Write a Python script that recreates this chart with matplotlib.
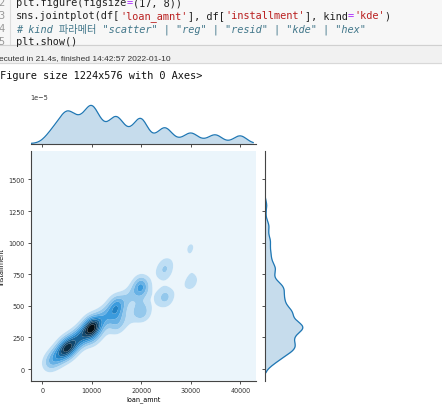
import colorsys
import numpy as np
import matplotlib
matplotlib.use("Agg")
import matplotlib.pyplot as plt
from matplotlib.colors import LinearSegmentedColormap, Normalize, to_rgb
from matplotlib.patches import Rectangle
from matplotlib.lines import Line2D

# loans: 36 month term band
amnt_36 = [1000, 2000, 3000, 4000, 5000, 5000, 5000, 6000, 7000, 8000, 9000,
           10000, 10000, 10000, 11000, 12000, 13000, 14000, 15000, 15000, 15000,
           16000, 17000, 18000, 19000, 20000, 20000, 20000, 21000, 22000, 23000,
           24000, 25000, 25000, 25000, 26000, 27000, 28000, 29000, 30000, 30000, 30000,
           31000, 32000, 33000, 34000, 35000, 36000, 37000, 38000, 39000, 40000]
inst_36 = [33, 66, 99, 132, 150, 166, 182, 198, 231, 264, 296,
           310, 330, 350, 361, 394, 426, 458, 450, 490, 530,
           524, 556, 588, 620, 620, 652, 685, 686, 718, 750,
           770, 760, 800, 845, 845, 878, 910, 940, 920, 960, 1000,
           1005, 1040, 1075, 1105, 1140, 1170, 1200, 1235, 1265, 1300]
n_36 = [8.6, 13.8, 19.0, 21.5, 11.0, 22.0, 11.0, 22.7, 22.7, 22.0, 21.5,
        19.0, 23.0, 13.0, 19.0, 13.0, 13.0, 11.0, 9.0, 15.0, 9.0,
        7.0, 7.0, 7.0, 7.0, 9.0, 15.0, 9.0, 1.0, 1.0, 1.0,
        6.6, 4.0, 6.5, 4.0, 1.6, 1.6, 1.2, 1.6, 2.4, 3.2, 2.4,
        1.4, 1.2, 1.0, 1.0, 5.0, 1.2, 1.0, 0.8, 0.8, 5.0]

# 60 month term band
amnt_60 = [10000, 12000, 14000, 15000, 15000, 15000, 16000, 17000, 18000, 19000,
           20000, 20000, 20000, 21000, 22000, 23000, 24000, 25000, 25000, 25000,
           26000, 27000, 28000, 29000, 30000, 30000, 30000, 31000, 32000, 33000, 34000,
           35000, 40000]
inst_60 = [232, 276, 320, 330, 356, 385, 370, 395, 414, 440,
           435, 462, 490, 480, 505, 525, 555, 545, 570, 600,
           590, 615, 640, 660, 660, 682, 710, 710, 730, 755, 775,
           800, 880]
n_60 = [8.0, 4.2, 3.7, 4.5, 6.0, 4.0, 4.7, 3.5, 4.2, 3.6,
        6.0, 9.0, 6.0, 1.0, 1.0, 1.0, 6.1, 4.0, 6.5, 4.0,
        1.6, 1.6, 2.0, 1.6, 3.0, 3.5, 3.0, 1.7, 1.6, 1.6, 1.5,
        5.0, 5.0]

# loans at other rates
amnt_other = [21000, 22000, 23000, 21000, 22000, 23000, 24000,
              30000, 35000, 35000, 40000, 40000, 40000]
inst_other = [575, 600, 630, 405, 425, 445, 655,
              820, 920, 1040, 1000, 1120, 1600]
n_other = [0.8, 0.8, 0.8, 1.2, 1.2, 1.2, 0.6,
           5.4, 5.0, 5.5, 5.5, 5.0, 0.3]

x = np.array(amnt_36 + amnt_60 + amnt_other, dtype=float)
y = np.array(inst_36 + inst_60 + inst_other, dtype=float)
w = np.array(n_36 + n_60 + n_other, dtype=float)


def kde1d(data, weights, bw, grid):
    d = (grid[:, None] - data[None, :]) / bw
    return (np.exp(-0.5 * d ** 2) * weights).sum(1) / (weights.sum() * bw * np.sqrt(2 * np.pi))


# joint kde on the plotted window
xlim = (-2340, 43170)
ylim = (-92, 1725)
bwx, bwy = 1150, 55
gx = np.linspace(*xlim, 260)
gy = np.linspace(*ylim, 260)
dx = (gx[None, :, None] - x[None, None, :]) / bwx
dy = (gy[:, None, None] - y[None, None, :]) / bwy
z = (np.exp(-0.5 * (dx ** 2 + dy ** 2)) * w).sum(2) / (w.sum() * 2 * np.pi * bwx * bwy)

# marginal kdes
bmx, bmy = 1300, 40
mx = np.linspace(x.min() - 2.5 * bmx, x.max() + 2 * bmx, 300)
my = np.linspace(y.min() - 1.5 * bmy, y.max() + 3 * bmy, 300)
dens_x = kde1d(x, w, bmx, mx)
dens_y = kde1d(y, w, bmy, my)

c0 = "#1f77b4"
h, l, s = colorsys.rgb_to_hls(*to_rgb(c0))
cmap = LinearSegmentedColormap.from_list(
    "kde", [colorsys.hls_to_rgb(h, li, s) for li in np.linspace(1, 0, 12)])

plt.rcParams["font.size"] = 4.7
plt.rcParams["xtick.color"] = "#333333"
plt.rcParams["ytick.color"] = "#333333"
plt.rcParams["axes.edgecolor"] = "#444444"

W, H = 442, 410
fig = plt.figure(figsize=(W / 100, H / 100), dpi=100)


def fx(px):
    return px / W


def fy(py):
    return 1 - py / H


def ftext(px, py, s, **kw):
    fig.text(fx(px), fy(py), s, va="center", **kw)


# notebook cell background
fig.add_artist(Rectangle((0, fy(45.5)), 1, 45.5 / H, transform=fig.transFigure,
                         color="#f7f7f7", zorder=0))
fig.add_artist(Rectangle((0, fy(64.3)), 1, 18.8 / H, transform=fig.transFigure,
                         color="#f1f1f1", zorder=0))
fig.add_artist(Line2D([fx(10), fx(10)], [fy(0), fy(45.5)], color="#dddddd", lw=0.8))
fig.add_artist(Line2D([0, 1], [fy(45.5), fy(45.5)], color="#d0d0d0", lw=0.8))
fig.add_artist(Line2D([0, 1], [fy(64.3), fy(64.3)], color="#d8d8d8", lw=0.8))

fs = 7.35
cw = 0.60205 * fs * 100 / 72
mono = "DejaVu Sans Mono"
black, red, purple = "#222222", "#ba2121", "#aa22ff"
code_lines = {
    2: [("plt.figure(figsize", black), ("=", purple), ("(17, 8))", black)],
    3: [("sns.jointplot(df[", black), ("'loan_amnt'", red), ("], df[", black),
        ("'installment'", red), ("], kind", black), ("=", purple), ("'kde'", red), (")", black)],
    5: [("plt.show()", black)],
}
line_y = {2: 3.5, 3: 16.2, 4: 28.9, 5: 41.6}
for n, yy in line_y.items():
    ftext(-1.5, yy, str(n), family=mono, fontsize=fs, color="#999999")
for n, toks in code_lines.items():
    col = 0
    for tok, colr in toks:
        ftext(16 + col * cw, line_y[n], tok, family=mono, fontsize=fs, color=colr)
        col += len(tok)
ftext(16, line_y[4], '# kind 파라메터 "scatter" | "reg" | "resid" | "kde" | "hex"',
      family=[mono, "Noto Sans CJK KR"], style="italic", fontsize=fs, color="#41778a")

ftext(-1, 58.5, "Executed in 21.4s, finished 14:42:57 2022-01-10"[2:],
      family="Liberation Sans", fontsize=6.0, color="#333333")
ftext(-cw, 76.5, "<Figure size 1224x576 with 0 Axes>", family=mono, fontsize=fs, color="#111111")

# jointplot axes
jl, jr, jt, jb = 30.7, 256, 152, 381.7
ax = fig.add_axes([fx(jl), fy(jb), (jr - jl) / W, (jb - jt) / H])
ax_mx = fig.add_axes([fx(jl), fy(144.5), (jr - jl) / W, 40 / H], sharex=ax)
ax_my = fig.add_axes([fx(264.7), fy(jb), 40 / W, (jb - jt) / H], sharey=ax)

levels = np.linspace(0, z.max(), 11)
ax.contourf(gx, gy, z, levels=levels, cmap=cmap, norm=Normalize(levels[0], levels[-1]),
            antialiased=True)
ax.set_xlim(*xlim)
ax.set_ylim(*ylim)
ax.set_xticks([0, 10000, 20000, 30000, 40000])
ax.set_yticks([0, 250, 500, 750, 1000, 1250, 1500])
ax.set_xlabel("loan_amnt", labelpad=2)
ax.set_ylabel("installment")
ax.yaxis.set_label_coords(-0.118, 0.5)
for sp in ["top", "right"]:
    ax.spines[sp].set_visible(False)
ax.tick_params(length=2.2, width=0.6, pad=2)

ax_mx.fill_between(mx, 0, dens_x, color=c0, alpha=0.25, lw=0)
ax_mx.plot(mx, dens_x, color=c0, lw=0.9)
ax_mx.set_ylim(0, dens_x.max() * 1.05)
for sp in ["top", "right", "left"]:
    ax_mx.spines[sp].set_visible(False)
ax_mx.tick_params(axis="x", labelbottom=False, length=2.2, width=0.6)
ax_mx.tick_params(axis="y", left=False, labelleft=False)
ax_mx.yaxis.get_offset_text().set_visible(True)
ax_mx.patch.set_visible(False)

ax_my.fill_betweenx(my, 0, dens_y, color=c0, alpha=0.25, lw=0)
ax_my.plot(dens_y, my, color=c0, lw=0.9)
ax_my.set_xlim(0, dens_y.max() * 1.05)
for sp in ["top", "right", "bottom"]:
    ax_my.spines[sp].set_visible(False)
ax_my.tick_params(axis="y", labelleft=False, length=2.2, width=0.6)
ax_my.tick_params(axis="x", bottom=False, labelbottom=False)
ax_my.patch.set_visible(False)

plt.savefig("out.png", dpi=100)
